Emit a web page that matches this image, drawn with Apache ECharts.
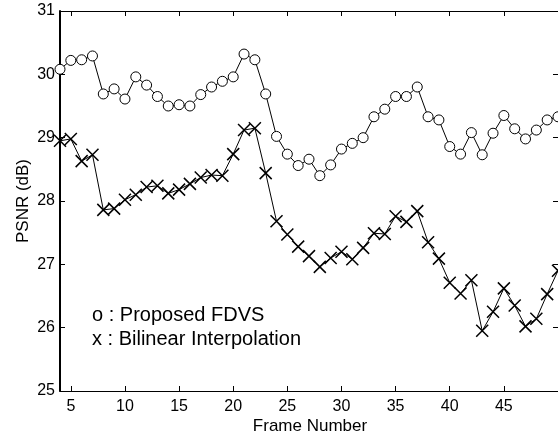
<!DOCTYPE html>
<html>
<head>
<meta charset="utf-8">
<script src="https://cdn.jsdelivr.net/npm/echarts@6/dist/echarts.min.js"></script>
<style>
html,body{margin:0;padding:0;background:#fff;}
#chart{width:558px;height:441px;}
</style>
</head>
<body>
<div id="chart"></div>
<script>
var frames = [4,5,6,7,8,9,10,11,12,13,14,15,16,17,18,19,20,21,22,23,24,25,26,27,28,29,30,31,32,33,34,35,36,37,38,39,40,41,42,43,44,45,46,47,48,49,50];
var proposedFDVS = [30.08,30.22,30.23,30.29,29.69,29.77,29.61,29.96,29.83,29.65,29.50,29.52,29.50,29.68,29.80,29.89,29.96,30.32,30.23,29.69,29.02,28.74,28.56,28.66,28.40,28.57,28.82,28.91,29.00,29.33,29.45,29.65,29.65,29.80,29.33,29.28,28.86,28.74,29.08,28.73,29.07,29.35,29.14,28.98,29.12,29.28,29.33];
var bilinear = [28.95,28.98,28.63,28.73,27.86,27.88,28.02,28.10,28.22,28.24,28.12,28.18,28.27,28.37,28.41,28.40,28.74,29.12,29.15,28.44,27.68,27.47,27.28,27.13,26.96,27.10,27.20,27.08,27.26,27.49,27.48,27.76,27.67,27.84,27.35,27.09,26.71,26.54,26.75,25.95,26.25,26.62,26.35,26.02,26.14,26.53,26.90];
var xTicks = [5,10,15,20,25,30,35,40,45];
var yTicks = [25,26,27,28,29,30,31];
var xTitle = 'Frame Number';
var yTitle = 'PSNR (dB)';
var legend1 = 'o : Proposed FDVS';
var legend2 = 'x : Bilinear Interpolation';

var FONT = '"Liberation Sans", Arial, Helvetica, sans-serif';
function pairs(xs, ys){ return xs.map(function(x,i){ return [x, ys[i]]; }); }

var chart = echarts.init(document.getElementById('chart'), null, {renderer:'canvas'});
var axisLineStyle = {color:'#000', width:1};
chart.setOption({
  animation:false,
  backgroundColor:'#fff',
  grid:{left:60, right:-1, top:11, bottom:50, containLabel:false},
  xAxis:[{
    type:'value', min:4, max:50, position:'bottom',
    axisLine:{show:true, onZero:false, lineStyle:axisLineStyle},
    axisTick:{show:true, inside:true, length:5, customValues:xTicks, lineStyle:{color:'#000'}},
    axisLabel:{show:true, customValues:xTicks, color:'#000', fontSize:16, fontFamily:FONT, margin:8},
    splitLine:{show:false}
  },{
    type:'value', min:4, max:50, position:'top',
    axisLine:{show:true, onZero:false, lineStyle:axisLineStyle},
    axisTick:{show:true, inside:true, length:5, customValues:xTicks, lineStyle:{color:'#000'}},
    axisLabel:{show:false},
    splitLine:{show:false}
  }],
  yAxis:[{
    type:'value', min:25, max:31, interval:1, position:'left',
    axisLine:{show:true, onZero:false, lineStyle:{color:'#000', width:2}},
    axisTick:{show:true, inside:true, length:5, lineStyle:{color:'#000'}},
    axisLabel:{show:true, color:'#000', fontSize:16, fontFamily:FONT, margin:5},
    splitLine:{show:false}
  },{
    type:'value', min:25, max:31, interval:1, position:'right',
    axisLine:{show:true, onZero:false, lineStyle:axisLineStyle},
    axisTick:{show:true, inside:true, length:5, lineStyle:{color:'#000'}},
    axisLabel:{show:false},
    splitLine:{show:false}
  }],
  series:[{
    type:'line', name:'Proposed FDVS', data:pairs(frames, proposedFDVS),
    xAxisIndex:0, yAxisIndex:0,
    symbol:'circle', symbolSize:10, showAllSymbol:true,
    lineStyle:{color:'#000', width:1},
    itemStyle:{color:'#fff', borderColor:'#000', borderWidth:1},
    emphasis:{disabled:true}, z:3
  },{
    type:'line', name:'Bilinear Interpolation', data:pairs(frames, bilinear),
    xAxisIndex:0, yAxisIndex:0,
    symbol:'path://M0,0L10,10M10,0L0,10', symbolSize:12, showAllSymbol:true,
    lineStyle:{color:'#000', width:1},
    itemStyle:{color:'#000', borderColor:'#000', borderWidth:1.5},
    emphasis:{disabled:true}, z:3
  }],
  graphic:[
    {type:'text', left:92, top:305, style:{text:legend1, fill:'#000', font:'20px ' + FONT}},
    {type:'text', left:92, top:329, style:{text:legend2, fill:'#000', font:'20px ' + FONT}},
    {type:'text', x:310, y:426, style:{text:xTitle, fill:'#000', font:'17px ' + FONT, align:'center', verticalAlign:'middle'}},
    {type:'text', x:23, y:201, rotation:Math.PI/2, style:{text:yTitle, fill:'#000', font:'17px ' + FONT, align:'center', verticalAlign:'middle'}}
  ]
});
</script>
</body>
</html>
